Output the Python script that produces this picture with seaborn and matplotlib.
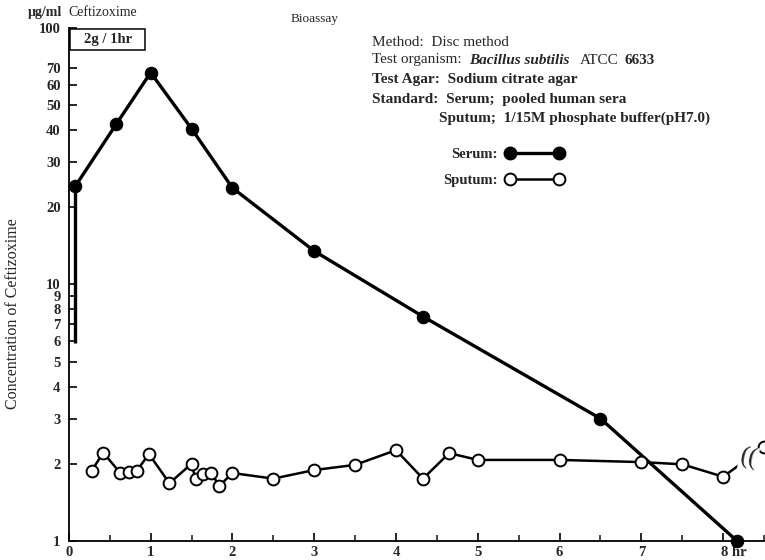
import pandas as pd
import matplotlib.pyplot as plt
import matplotlib.ticker as mticker
import matplotlib.patches as mpatches
from matplotlib.lines import Line2D
from matplotlib.transforms import ScaledTranslation
import seaborn as sns

# Serum (filled) and sputum (open) concentrations, ug/ml vs hours
serum_time = [0.08, 0.58, 1.0, 1.5, 2.0, 3.0, 4.33, 6.5, 8.17]
serum_conc = [24.2, 42.2, 67, 40.5, 23.8, 13.5, 7.5, 3.0, 1.0]
serum_infusion_start = 5.9

sputum_time = [0.28, 0.42, 0.63, 0.74, 0.83, 0.98, 1.23, 1.5, 1.55, 1.64, 1.74, 1.84, 2.0,
               2.5, 3.0, 3.5, 4.0, 4.33, 4.65, 5.0, 6.0, 7.0, 7.5, 8.0, 8.5]
sputum_conc = [1.88, 2.21, 1.84, 1.85, 1.88, 2.18, 1.68, 2.0, 1.74, 1.82, 1.84, 1.64, 1.84,
               1.75, 1.89, 1.98, 2.26, 1.75, 2.20, 2.07, 2.07, 2.03, 1.99, 1.78, 2.33]

y_ticks = [1, 2, 3, 4, 5, 6, 7, 8, 9, 10, 20, 30, 40, 50, 60, 70, 100]
x_ticks = [0, 1, 2, 3, 4, 5, 6, 7, 8]
x_labels = ['0', '1', '2', '3', '4', '5', '6', '7', '8 hr']

df_serum = pd.DataFrame({'Time': serum_time, 'Conc': serum_conc})
df_sputum = pd.DataFrame({'Time': sputum_time, 'Conc': sputum_conc})

sns.set_theme(style='ticks')
plt.rcParams['font.family'] = ['Liberation Serif', 'DejaVu Serif']

fig = plt.figure(figsize=(7.65, 5.6), dpi=100)
ax = fig.add_axes([0.090, 0.034, 0.912, 0.916])

# rise during infusion
ax.plot([serum_time[0], serum_time[0]], [serum_infusion_start, serum_conc[0]],
        color='black', lw=2.4, solid_capstyle='butt')

sns.lineplot(data=df_serum, x='Time', y='Conc', ax=ax, sort=False, estimator=None,
             color='black', lw=2.4, marker='o', markersize=9,
             markerfacecolor='black', markeredgecolor='black', clip_on=False, zorder=3)
sns.lineplot(data=df_sputum, x='Time', y='Conc', ax=ax, sort=False, estimator=None,
             color='black', lw=1.8, marker='o', markersize=8.5,
             markerfacecolor='white', markeredgecolor='black', markeredgewidth=1.4,
             clip_on=False, zorder=4)

# axis break mark on the sputum line
ax.text(8.31, 2.1, '((', fontsize=19, ha='center', va='center', rotation=-12,
        bbox=dict(facecolor='white', edgecolor='none', pad=0.3), zorder=5)

ax.set_yscale('log')
ax.set_ylim(1, 100)
ax.set_xlim(0, 8.53)
ax.yaxis.set_major_locator(mticker.FixedLocator(y_ticks))
ax.yaxis.set_major_formatter(mticker.FixedFormatter([str(v) for v in y_ticks]))
ax.yaxis.set_minor_locator(mticker.NullLocator())
ax.set_xticks(x_ticks)
ax.set_xticklabels(x_labels)
ax.xaxis.set_minor_locator(mticker.MultipleLocator(0.5))

ax.tick_params(axis='both', which='major', direction='in', length=6, width=1.2,
               labelsize=10.5, color='black')
ax.tick_params(axis='x', which='minor', direction='in', length=4, width=1.2)
ax.tick_params(axis='y', pad=6)
for lab in ax.get_xticklabels() + ax.get_yticklabels():
    lab.set_fontweight('bold')
last = ax.get_xticklabels()[-1]
last.set_transform(last.get_transform() + ScaledTranslation(8 / 72, 0, fig.dpi_scale_trans))

for s in ['top', 'right']:
    ax.spines[s].set_visible(False)
for s in ['left', 'bottom']:
    ax.spines[s].set_linewidth(1.3)
    ax.spines[s].set_color('black')
ax.set_xlabel('')
ax.set_ylabel('')

fig.text(0.017, 0.44, 'Concentration of Ceftizoxime', rotation=90, ha='center',
         va='center', fontsize=11.5)
fig.text(0.081, 0.978, 'μg/ml', ha='right', va='center', fontsize=10, fontweight='bold')
fig.text(0.090, 0.978, 'Ceftizoxime', ha='left', va='center', fontsize=10)
fig.text(0.380, 0.966, 'Bioassay', ha='left', va='center', fontsize=9.5)

# infusion box
ax.add_patch(mpatches.Rectangle((0.0015, 0.957), 0.108, 0.041, transform=ax.transAxes,
                                facecolor='white', edgecolor='black', lw=1.1, clip_on=False))
ax.text(0.0555, 0.9775, '2g / 1hr', transform=ax.transAxes, ha='center', va='center',
        fontsize=10.5, fontweight='bold')

fs = 11
fig.text(372 / 765, 1 - 42 / 560, 'Method:  Disc method', fontsize=fs, va='center')
t1 = fig.text(372 / 765, 1 - 60 / 560, 'Test organism:', fontsize=fs, va='center')
t2 = fig.text(0, 0, 'Bacillus subtilis', fontsize=fs, va='center', fontstyle='italic',
              fontweight='bold')
t3 = fig.text(0, 0, 'ATCC', fontsize=fs, va='center')
t4 = fig.text(0, 0, '6633', fontsize=fs, va='center', fontweight='bold')
fig.canvas.draw()
prev = t1
for t, gap in [(t2, 8), (t3, 10), (t4, 6)]:
    bb = prev.get_window_extent()
    t.set_position(((bb.x1 + gap) / fig.bbox.width, 1 - 60 / 560))
    fig.canvas.draw()
    prev = t
fig.text(372 / 765, 1 - 80 / 560, 'Test Agar:  Sodium citrate agar', fontsize=fs, va='center',
         fontweight='bold')
fig.text(372 / 765, 1 - 100 / 560, 'Standard:  Serum;  pooled human sera', fontsize=fs,
         va='center', fontweight='bold')
fig.text(439 / 765, 1 - 118 / 560, 'Sputum;  1/15M phosphate buffer(pH7.0)', fontsize=fs,
         va='center', fontweight='bold')

handles = [Line2D([], [], color='black', lw=2.4, marker='o', markersize=9,
                  markerfacecolor='black'),
           Line2D([], [], color='black', lw=1.8, marker='o', markersize=8.5,
                  markerfacecolor='white', markeredgewidth=1.4)]
leg = ax.legend(handles, ['Serum:', 'Sputum:'], markerfirst=False, numpoints=2,
                frameon=False, handlelength=4.0, labelspacing=0.9, handletextpad=0.5,
                loc='center left', bbox_to_anchor=(0.518, 0.728),
                prop={'family': 'Liberation Serif', 'weight': 'bold', 'size': 10.5})

fig.savefig('out.png', dpi=100, facecolor='white')
